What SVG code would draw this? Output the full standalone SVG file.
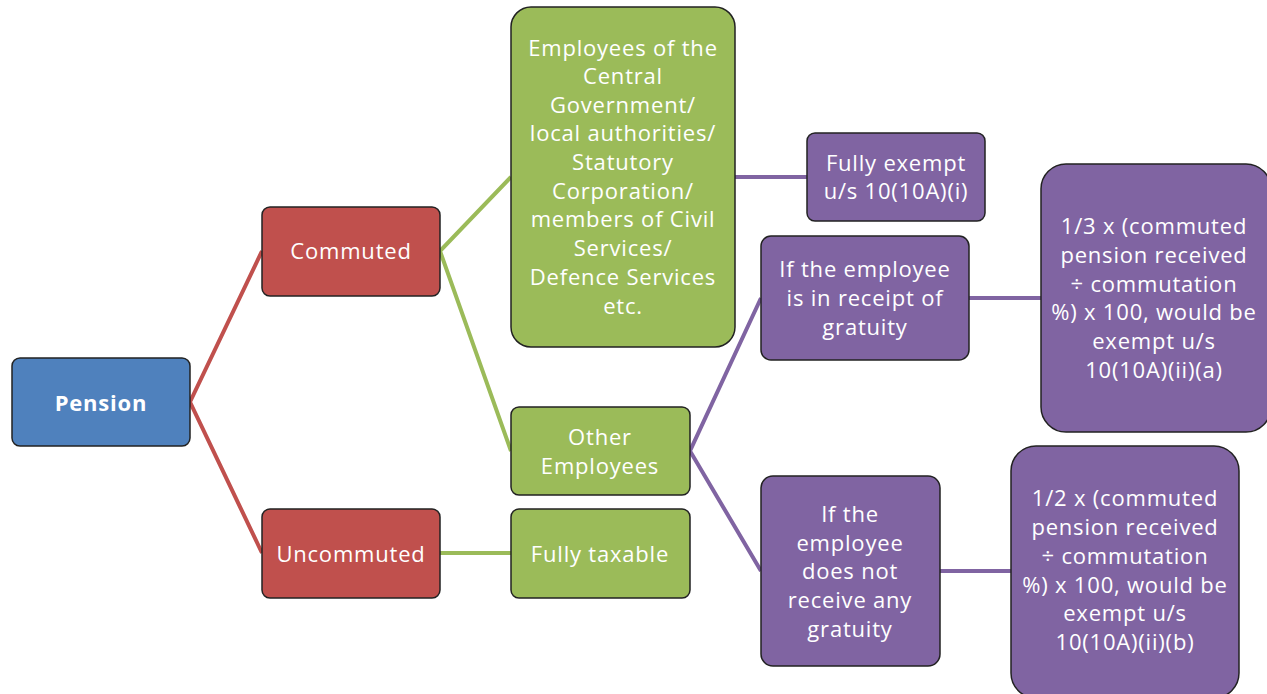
<svg xmlns="http://www.w3.org/2000/svg" width="1267" height="694" viewBox="0 0 1267 694">
<style>
.n{stroke:#222;stroke-width:1.5}
.b{fill:#4f81bd}.r{fill:#c0504d}.g{fill:#9bbb59}.p{fill:#8064a2}
text{font-family:"Open Sans","Liberation Sans",sans-serif;font-size:22px;letter-spacing:0.8px;fill:#fff;text-anchor:middle;dominant-baseline:central}
.bold{font-weight:bold}
.c{fill:none;stroke-width:4}
</style>
<rect width="1267" height="694" fill="#fff"/>
<g id="connectors">
<polyline class="c" stroke="#c0504d" points="262,251 190,402 262,553"/>
<polyline class="c" stroke="#9bbb59" points="511,177 440,251 511,451"/>
<line class="c" stroke="#9bbb59" x1="440" y1="553" x2="511" y2="553"/>
<line class="c" stroke="#8064a2" x1="735" y1="177" x2="807" y2="177"/>
<polyline class="c" stroke="#8064a2" points="761,298 690,451 761,571"/>
<line class="c" stroke="#8064a2" x1="969" y1="298" x2="1041" y2="298"/>
<line class="c" stroke="#8064a2" x1="940" y1="571" x2="1011" y2="571"/>
</g>
<g id="pension"><rect class="n b" x="12" y="358" width="178" height="88" rx="8"/><text class="bold" x="101" y="402">Pension</text></g>
<g id="commuted"><rect class="n r" x="262" y="207" width="178" height="89" rx="8"/><text x="351" y="250">Commuted</text></g>
<g id="uncommuted"><rect class="n r" x="262" y="509" width="178" height="89" rx="8"/><text x="351" y="553">Uncommuted</text></g>
<g id="govt"><rect class="n g" x="511" y="7" width="224" height="340" rx="20"/>
<text x="623" y="47">Employees of the</text><text x="623" y="75">Central</text><text x="623" y="104">Government/</text><text x="623" y="132">local authorities/</text><text x="623" y="161">Statutory</text><text x="623" y="190">Corporation/</text><text x="623" y="218">members of Civil</text><text x="623" y="247">Services/</text><text x="623" y="276">Defence Services</text><text x="623" y="305">etc.</text></g>
<g id="other"><rect class="n g" x="511" y="407" width="179" height="88" rx="8"/><text x="600" y="436">Other</text><text x="600" y="465">Employees</text></g>
<g id="taxable"><rect class="n g" x="511" y="509" width="179" height="89" rx="8"/><text x="600" y="553">Fully taxable</text></g>
<g id="exempt"><rect class="n p" x="807" y="133" width="178" height="88" rx="8"/><text x="896" y="162">Fully exempt</text><text x="896" y="190">u/s 10(10A)(i)</text></g>
<g id="receipt"><rect class="n p" x="761" y="236" width="208" height="124" rx="10"/><text x="865" y="268">If the employee</text><text x="865" y="297">is in receipt of</text><text x="865" y="326">gratuity</text></g>
<g id="noreceipt"><rect class="n p" x="761" y="476" width="179" height="190" rx="12"/><text x="850" y="513">If the</text><text x="850" y="542">employee</text><text x="850" y="570">does not</text><text x="850" y="599">receive any</text><text x="850" y="628">gratuity</text></g>
<g id="third"><rect class="n p" x="1041" y="164" width="230" height="268" rx="25"/><text x="1154" y="225">1/3 x (commuted</text><text x="1154" y="254">pension received</text><text x="1154" y="283">÷ commutation</text><text x="1154" y="311">%) x 100, would be</text><text x="1154" y="340">exempt u/s</text><text x="1154" y="369">10(10A)(ii)(a)</text></g>
<g id="half"><rect class="n p" x="1011" y="446" width="228" height="252" rx="25"/><text x="1125" y="497">1/2 x (commuted</text><text x="1125" y="526">pension received</text><text x="1125" y="555">÷ commutation</text><text x="1125" y="584">%)  x 100, would be</text><text x="1125" y="612">exempt u/s</text><text x="1125" y="641">10(10A)(ii)(b)</text></g>
</svg>
